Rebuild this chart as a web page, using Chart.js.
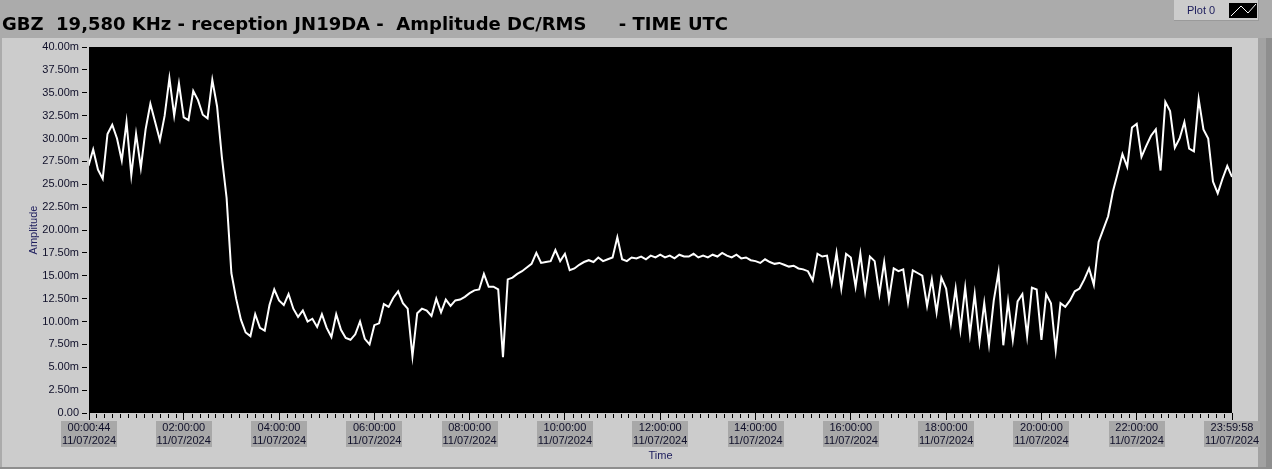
<!DOCTYPE html>
<html>
<head>
<meta charset="utf-8">
<script src="https://cdn.jsdelivr.net/npm/chart.js@4.4.1/dist/chart.umd.min.js"></script>
<style>
  html, body { margin: 0; padding: 0; background: #ababab; }
  #wrap { width: 1272px; height: 469px; }
</style>
</head>
<body>
<div id="wrap"><canvas id="myChart" width="1272" height="469"></canvas></div>
<script>
// time axis in hours UTC, 11/07/2024
const START_H = 0.0122;   // 00:00:44
const END_H = 23.9994;    // 23:59:58
const STEP_H = 0.1;       // one sample every 6 minutes, last one at END_H

const xTickHours = [START_H, 2, 4, 6, 8, 10, 12, 14, 16, 18, 20, 22, END_H];
const xTickTimes = ['00:00:44', '02:00:00', '04:00:00', '06:00:00', '08:00:00', '10:00:00', '12:00:00',
                    '14:00:00', '16:00:00', '18:00:00', '20:00:00', '22:00:00', '23:59:58'];
const xTickDate = '11/07/2024';

// amplitude DC/RMS, in m (milli) units
const amplitude = [
  27.0, 28.8, 26.6, 25.6, 30.5, 31.5, 30.0, 27.6, 31.8, 26.0,
  30.5, 26.8, 31.0, 33.8, 31.8, 29.8, 32.5, 36.6, 32.5, 36.0,
  32.3, 32.0, 35.2, 34.2, 32.6, 32.2, 36.4, 33.5, 28.0, 23.5,
  15.3, 12.5, 10.2, 8.8, 8.4, 10.8, 9.3, 9.0, 11.8, 13.5,
  12.3, 11.8, 13.0, 11.4, 10.5, 11.2, 10.0, 10.3, 9.4, 10.8,
  9.3, 8.3, 10.8, 9.1, 8.2, 8.0, 8.6, 10.0, 8.1, 7.5,
  9.6, 9.8, 11.9, 11.6, 12.6, 13.3, 12.0, 11.4, 6.2, 10.9,
  11.4, 11.2, 10.6, 12.5, 11.0, 12.4, 11.7, 12.3, 12.4, 12.7,
  13.1, 13.4, 13.5, 15.2, 13.8, 13.8, 13.5, 6.1, 14.6, 14.8,
  15.2, 15.5, 15.9, 16.3, 17.5, 16.4, 16.5, 16.6, 17.8, 16.6,
  17.4, 15.6, 15.8, 16.2, 16.5, 16.7, 16.5, 17.0, 16.6, 16.8,
  17.0, 19.2, 16.8, 16.6, 17.0, 16.9, 17.1, 16.8, 17.2, 17.0,
  17.3, 17.0, 17.2, 16.9, 17.3, 17.1, 17.1, 17.4, 17.0, 17.2,
  17.0, 17.3, 17.1, 17.5, 17.2, 17.0, 17.3, 16.9, 17.0, 16.7,
  16.6, 16.4, 16.8, 16.5, 16.3, 16.4, 16.2, 16.0, 16.1, 15.8,
  15.7, 15.5, 14.5, 17.4, 17.1, 17.2, 14.2, 17.5, 13.6, 17.4,
  17.0, 13.8, 17.4, 13.3, 17.1, 16.6, 13.0, 16.5, 12.4, 15.8,
  15.5, 15.7, 12.1, 15.6, 15.3, 15.0, 11.7, 14.6, 11.0, 14.8,
  13.6, 9.8, 13.6, 9.1, 13.7, 8.6, 13.0, 7.8, 12.0, 7.5,
  12.3, 15.4, 7.4, 12.2, 8.0, 12.2, 13.0, 8.4, 13.7, 13.5,
  8.0, 13.0, 12.0, 6.9, 12.0, 11.6, 12.3, 13.3, 13.6, 14.6,
  15.8, 14.0, 18.7, 20.1, 21.5, 24.2, 26.2, 28.3, 26.9, 31.2,
  31.6, 28.0, 29.2, 30.3, 31.0, 26.5, 34.0, 33.0, 29.0, 30.0,
  31.8, 28.9, 28.6, 34.3, 31.0, 30.0, 25.3, 24.0, 25.6, 27.0,
  25.8
];

const points = amplitude.map((v, k) => ({
  x: k === amplitude.length - 1 ? END_H : k * STEP_H,
  y: v
}));

const tickFont = { family: 'Liberation Sans', size: 11 };
const navy = '#1c1c5c';

// grey LabVIEW-like panel, title, plot legend, label boxes and minor time ticks
const framePlugin = {
  id: 'frame',
  beforeDraw(chart) {
    const ctx = chart.ctx;
    const a = chart.chartArea;
    const xs = chart.scales.x;
    ctx.save();
    ctx.fillStyle = '#ababab';
    ctx.fillRect(0, 0, chart.width, chart.height);
    ctx.fillStyle = '#cccccc';
    ctx.fillRect(2, 38, 1256, 429);
    ctx.fillStyle = '#a2a2a2';
    ctx.fillRect(1258, 38, 8, 431);
    ctx.fillStyle = '#8e8e8e';
    ctx.fillRect(1266, 38, 6, 431);
    ctx.fillRect(0, 467, 1266, 2);

    ctx.fillStyle = '#000';
    ctx.fillRect(a.left, a.top, a.right - a.left, a.bottom - a.top);

    ctx.font = 'bold 18px "DejaVu Sans"';
    ctx.textBaseline = 'alphabetic';
    ctx.textAlign = 'left';
    ctx.fillText('GBZ  19,580 KHz - reception JN19DA -  Amplitude DC/RMS', 2, 30);
    ctx.textAlign = 'right';
    ctx.fillText('- TIME UTC', 728, 30);
    ctx.textAlign = 'left';

    // legend "Plot 0"
    ctx.fillStyle = '#cccccc';
    ctx.fillRect(1174, 0, 84, 20);
    ctx.fillStyle = '#9a9a9a';
    ctx.fillRect(1174, 20, 85, 1);
    ctx.fillRect(1258, 0, 1, 21);
    ctx.fillStyle = navy;
    ctx.font = '11px "Liberation Sans"';
    ctx.fillText('Plot 0', 1187, 14);
    ctx.fillStyle = '#000';
    ctx.fillRect(1229, 3, 28, 15);
    ctx.strokeStyle = '#fff';
    ctx.lineWidth = 1;
    ctx.beginPath();
    ctx.moveTo(1231, 16);
    ctx.lineTo(1241, 6);
    ctx.lineTo(1248, 13);
    ctx.lineTo(1256, 4);
    ctx.stroke();

    // grey boxes behind the time labels
    ctx.fillStyle = '#a8a8a8';
    xTickHours.forEach(h => {
      const px = Math.round(xs.getPixelForValue(h));
      ctx.fillRect(px - 28, a.bottom + 8, 56, 26);
    });
    ctx.restore();
  },
  afterDraw(chart) {
    const ctx = chart.ctx;
    const xs = chart.scales.x;
    const y0 = chart.chartArea.bottom;
    ctx.save();
    ctx.strokeStyle = '#000';
    ctx.lineWidth = 1;
    ctx.beginPath();
    for (let m = 10; m < 24 * 60; m += 10) {
      if (m % 120 === 0) continue;
      const px = Math.round(xs.getPixelForValue(m / 60)) + 0.5;
      ctx.moveTo(px, y0 + 1);
      ctx.lineTo(px, y0 + 5);
    }
    ctx.stroke();
    ctx.restore();
  }
};

new Chart(document.getElementById('myChart'), {
  type: 'line',
  data: {
    datasets: [{
      label: 'Plot 0',
      data: points,
      borderColor: '#ffffff',
      borderWidth: 2,
      pointRadius: 0,
      tension: 0,
      fill: false
    }]
  },
  options: {
    responsive: false,
    animation: false,
    events: [],
    layout: { padding: { top: 47, right: 40, left: 0, bottom: 0 } },
    plugins: {
      legend: { display: false },
      tooltip: { enabled: false }
    },
    scales: {
      x: {
        type: 'linear',
        min: START_H,
        max: END_H,
        afterFit: s => { s.height = 56; },
        afterBuildTicks: s => { s.ticks = xTickHours.map(v => ({ value: v })); },
        border: { display: false },
        grid: { drawOnChartArea: false, drawTicks: true, tickLength: 7, color: '#000' },
        ticks: {
          autoSkip: false,
          maxRotation: 0,
          minRotation: 0,
          padding: 1,
          color: '#10102a',
          font: tickFont,
          callback: (v, i) => [xTickTimes[i], xTickDate]
        },
        title: { display: true, text: 'Time', color: navy, font: tickFont, padding: { top: 0, bottom: 6 } }
      },
      y: {
        min: 0,
        max: 40,
        afterFit: s => { s.width = 89; },
        border: { display: false },
        grid: { drawOnChartArea: false, drawTicks: true, tickLength: 7, color: '#000', tickBorderDash: [5, 10] },
        ticks: {
          stepSize: 2.5,
          autoSkip: false,
          padding: 3,
          color: '#10102a',
          font: tickFont,
          callback: v => v === 0 ? '0.00' : v.toFixed(2) + 'm'
        },
        title: { display: true, text: 'Amplitude', color: navy, font: tickFont, padding: { top: 27, bottom: 0 } }
      }
    }
  },
  plugins: [framePlugin]
});
</script>
</body>
</html>
